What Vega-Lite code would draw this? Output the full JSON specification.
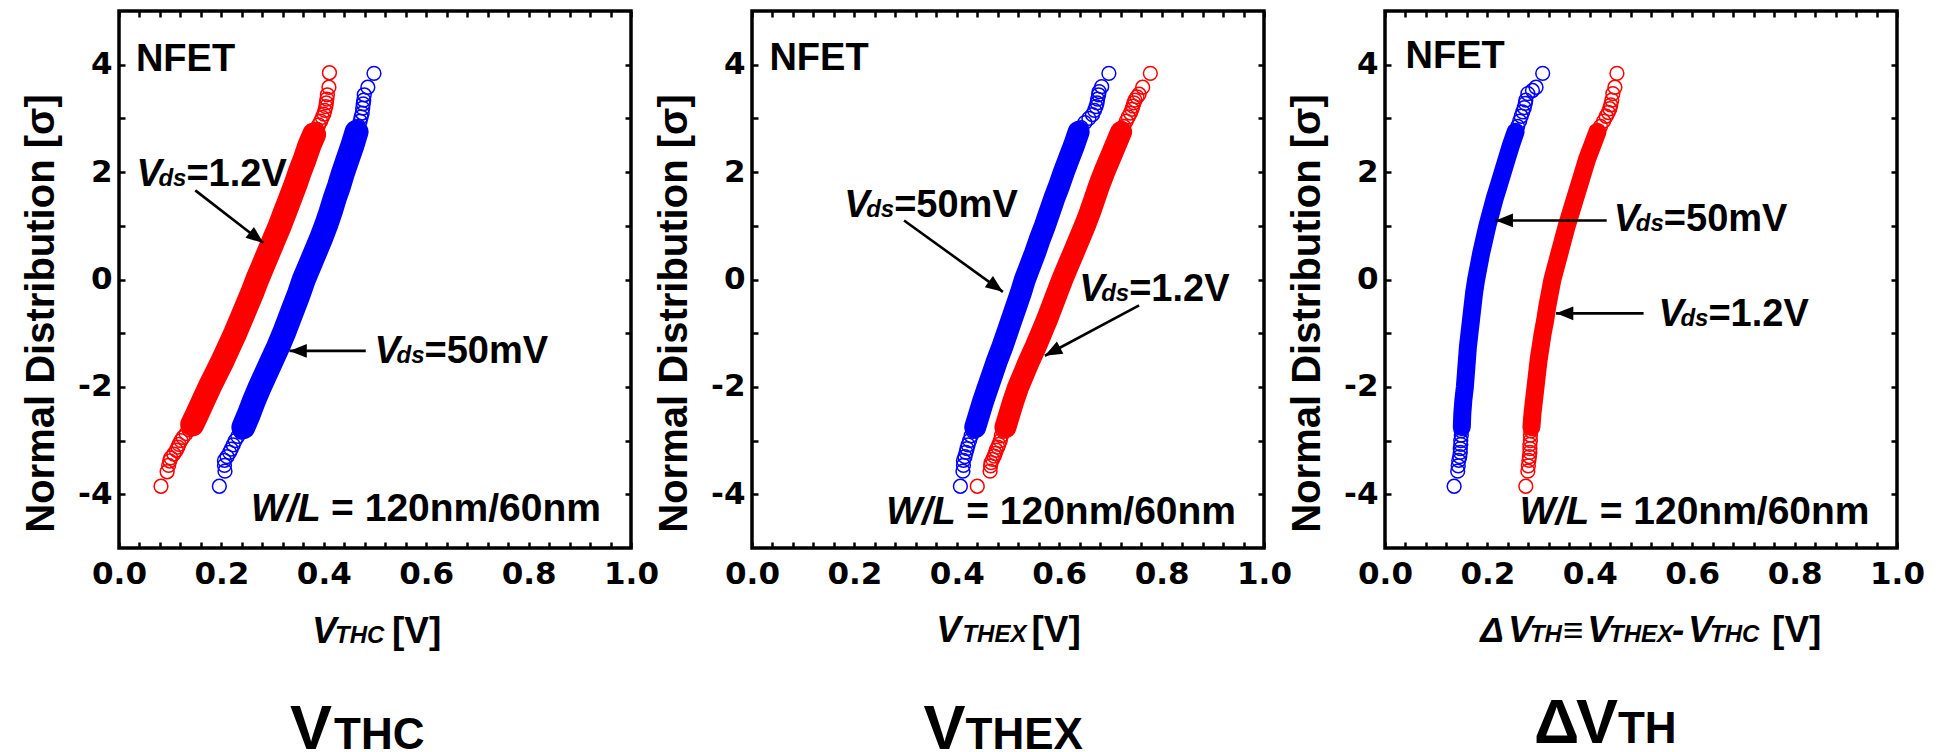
{
  "$schema": "https://vega.github.io/schema/vega-lite/v6.json",
  "background": "white",
  "padding": {"left": 19, "top": 8, "right": 0, "bottom": 0},
  "config": {
    "view": {"stroke": "black", "strokeWidth": 3.5},
    "font": "Liberation Sans"
  },
  "datasets": {
    "pts": [
      {"p":1,"s":"1.2V","x":0.082,"y":-3.85},{"p":1,"s":"1.2V","x":0.094,"y":-3.58},{"p":1,"s":"1.2V","x":0.097,"y":-3.46},{"p":1,"s":"1.2V","x":0.099,"y":-3.38},{"p":1,"s":"1.2V","x":0.101,"y":-3.32},{"p":1,"s":"1.2V","x":0.107,"y":-3.25},{"p":1,"s":"1.2V","x":0.112,"y":-3.18},{"p":1,"s":"1.2V","x":0.115,"y":-3.12},{"p":1,"s":"1.2V","x":0.117,"y":-3.07},{"p":1,"s":"1.2V","x":0.121,"y":-3.0},{"p":1,"s":"1.2V","x":0.125,"y":-2.94},{"p":1,"s":"1.2V","x":0.131,"y":-2.87},{"p":1,"s":"1.2V","x":0.137,"y":-2.8},
      {"p":1,"s":"1.2V","x":0.143,"y":-2.7},{"p":1,"s":"1.2V","x":0.153,"y":-2.5},{"p":1,"s":"1.2V","x":0.165,"y":-2.25},{"p":1,"s":"1.2V","x":0.177,"y":-2.0},{"p":1,"s":"1.2V","x":0.19,"y":-1.75},{"p":1,"s":"1.2V","x":0.203,"y":-1.5},{"p":1,"s":"1.2V","x":0.215,"y":-1.25},{"p":1,"s":"1.2V","x":0.227,"y":-1.0},{"p":1,"s":"1.2V","x":0.238,"y":-0.75},{"p":1,"s":"1.2V","x":0.249,"y":-0.5},{"p":1,"s":"1.2V","x":0.26,"y":-0.25},{"p":1,"s":"1.2V","x":0.27,"y":0.0},{"p":1,"s":"1.2V","x":0.281,"y":0.25},{"p":1,"s":"1.2V","x":0.292,"y":0.5},{"p":1,"s":"1.2V","x":0.303,"y":0.75},{"p":1,"s":"1.2V","x":0.314,"y":1.0},{"p":1,"s":"1.2V","x":0.324,"y":1.25},{"p":1,"s":"1.2V","x":0.334,"y":1.5},{"p":1,"s":"1.2V","x":0.344,"y":1.75},{"p":1,"s":"1.2V","x":0.353,"y":2.0},{"p":1,"s":"1.2V","x":0.363,"y":2.25},{"p":1,"s":"1.2V","x":0.372,"y":2.5},{"p":1,"s":"1.2V","x":0.381,"y":2.7},
      {"p":1,"s":"1.2V","x":0.386,"y":2.8},{"p":1,"s":"1.2V","x":0.39,"y":2.88},{"p":1,"s":"1.2V","x":0.394,"y":2.95},{"p":1,"s":"1.2V","x":0.397,"y":3.02},{"p":1,"s":"1.2V","x":0.4,"y":3.08},{"p":1,"s":"1.2V","x":0.402,"y":3.15},{"p":1,"s":"1.2V","x":0.404,"y":3.22},{"p":1,"s":"1.2V","x":0.405,"y":3.29},{"p":1,"s":"1.2V","x":0.406,"y":3.36},{"p":1,"s":"1.2V","x":0.407,"y":3.44},{"p":1,"s":"1.2V","x":0.41,"y":3.58},{"p":1,"s":"1.2V","x":0.411,"y":3.85},

      {"p":1,"s":"50mV","x":0.196,"y":-3.85},{"p":1,"s":"50mV","x":0.207,"y":-3.57},{"p":1,"s":"50mV","x":0.206,"y":-3.46},{"p":1,"s":"50mV","x":0.206,"y":-3.37},{"p":1,"s":"50mV","x":0.211,"y":-3.3},{"p":1,"s":"50mV","x":0.216,"y":-3.22},{"p":1,"s":"50mV","x":0.219,"y":-3.16},{"p":1,"s":"50mV","x":0.223,"y":-3.08},{"p":1,"s":"50mV","x":0.227,"y":-3.0},{"p":1,"s":"50mV","x":0.232,"y":-2.92},{"p":1,"s":"50mV","x":0.238,"y":-2.84},
      {"p":1,"s":"50mV","x":0.243,"y":-2.75},{"p":1,"s":"50mV","x":0.254,"y":-2.5},{"p":1,"s":"50mV","x":0.264,"y":-2.25},{"p":1,"s":"50mV","x":0.275,"y":-2.0},{"p":1,"s":"50mV","x":0.287,"y":-1.75},{"p":1,"s":"50mV","x":0.299,"y":-1.5},{"p":1,"s":"50mV","x":0.311,"y":-1.25},{"p":1,"s":"50mV","x":0.322,"y":-1.0},{"p":1,"s":"50mV","x":0.332,"y":-0.75},{"p":1,"s":"50mV","x":0.342,"y":-0.5},{"p":1,"s":"50mV","x":0.352,"y":-0.25},{"p":1,"s":"50mV","x":0.361,"y":0.0},{"p":1,"s":"50mV","x":0.372,"y":0.25},{"p":1,"s":"50mV","x":0.383,"y":0.5},{"p":1,"s":"50mV","x":0.394,"y":0.75},{"p":1,"s":"50mV","x":0.404,"y":1.0},{"p":1,"s":"50mV","x":0.413,"y":1.25},{"p":1,"s":"50mV","x":0.421,"y":1.5},{"p":1,"s":"50mV","x":0.43,"y":1.75},{"p":1,"s":"50mV","x":0.438,"y":2.0},{"p":1,"s":"50mV","x":0.447,"y":2.25},{"p":1,"s":"50mV","x":0.456,"y":2.5},{"p":1,"s":"50mV","x":0.464,"y":2.75},
      {"p":1,"s":"50mV","x":0.468,"y":2.85},{"p":1,"s":"50mV","x":0.471,"y":2.95},{"p":1,"s":"50mV","x":0.473,"y":3.03},{"p":1,"s":"50mV","x":0.475,"y":3.1},{"p":1,"s":"50mV","x":0.476,"y":3.19},{"p":1,"s":"50mV","x":0.477,"y":3.27},{"p":1,"s":"50mV","x":0.478,"y":3.34},{"p":1,"s":"50mV","x":0.479,"y":3.44},{"p":1,"s":"50mV","x":0.486,"y":3.58},{"p":1,"s":"50mV","x":0.498,"y":3.84},

      {"p":2,"s":"50mV","x":0.407,"y":-3.85},{"p":2,"s":"50mV","x":0.412,"y":-3.57},{"p":2,"s":"50mV","x":0.413,"y":-3.46},{"p":2,"s":"50mV","x":0.413,"y":-3.37},{"p":2,"s":"50mV","x":0.416,"y":-3.3},{"p":2,"s":"50mV","x":0.418,"y":-3.22},{"p":2,"s":"50mV","x":0.42,"y":-3.15},{"p":2,"s":"50mV","x":0.422,"y":-3.08},{"p":2,"s":"50mV","x":0.425,"y":-3.0},{"p":2,"s":"50mV","x":0.428,"y":-2.91},{"p":2,"s":"50mV","x":0.432,"y":-2.83},
      {"p":2,"s":"50mV","x":0.436,"y":-2.75},{"p":2,"s":"50mV","x":0.444,"y":-2.5},{"p":2,"s":"50mV","x":0.452,"y":-2.25},{"p":2,"s":"50mV","x":0.461,"y":-2.0},{"p":2,"s":"50mV","x":0.47,"y":-1.75},{"p":2,"s":"50mV","x":0.479,"y":-1.5},{"p":2,"s":"50mV","x":0.489,"y":-1.25},{"p":2,"s":"50mV","x":0.498,"y":-1.0},{"p":2,"s":"50mV","x":0.507,"y":-0.75},{"p":2,"s":"50mV","x":0.516,"y":-0.5},{"p":2,"s":"50mV","x":0.525,"y":-0.25},{"p":2,"s":"50mV","x":0.533,"y":0.0},{"p":2,"s":"50mV","x":0.543,"y":0.25},{"p":2,"s":"50mV","x":0.553,"y":0.5},{"p":2,"s":"50mV","x":0.562,"y":0.75},{"p":2,"s":"50mV","x":0.572,"y":1.0},{"p":2,"s":"50mV","x":0.581,"y":1.25},{"p":2,"s":"50mV","x":0.59,"y":1.5},{"p":2,"s":"50mV","x":0.6,"y":1.75},{"p":2,"s":"50mV","x":0.609,"y":2.0},{"p":2,"s":"50mV","x":0.619,"y":2.25},{"p":2,"s":"50mV","x":0.629,"y":2.5},{"p":2,"s":"50mV","x":0.638,"y":2.75},
      {"p":2,"s":"50mV","x":0.643,"y":2.83},{"p":2,"s":"50mV","x":0.65,"y":2.92},{"p":2,"s":"50mV","x":0.658,"y":3.0},{"p":2,"s":"50mV","x":0.665,"y":3.07},{"p":2,"s":"50mV","x":0.669,"y":3.15},{"p":2,"s":"50mV","x":0.672,"y":3.22},{"p":2,"s":"50mV","x":0.674,"y":3.29},{"p":2,"s":"50mV","x":0.675,"y":3.36},{"p":2,"s":"50mV","x":0.677,"y":3.44},{"p":2,"s":"50mV","x":0.678,"y":3.5},{"p":2,"s":"50mV","x":0.683,"y":3.59},{"p":2,"s":"50mV","x":0.697,"y":3.84},

      {"p":2,"s":"1.2V","x":0.44,"y":-3.85},{"p":2,"s":"1.2V","x":0.465,"y":-3.57},{"p":2,"s":"1.2V","x":0.466,"y":-3.47},{"p":2,"s":"1.2V","x":0.467,"y":-3.41},{"p":2,"s":"1.2V","x":0.47,"y":-3.35},{"p":2,"s":"1.2V","x":0.473,"y":-3.29},{"p":2,"s":"1.2V","x":0.475,"y":-3.24},{"p":2,"s":"1.2V","x":0.477,"y":-3.18},{"p":2,"s":"1.2V","x":0.48,"y":-3.12},{"p":2,"s":"1.2V","x":0.482,"y":-3.07},{"p":2,"s":"1.2V","x":0.485,"y":-3.0},{"p":2,"s":"1.2V","x":0.487,"y":-2.91},{"p":2,"s":"1.2V","x":0.491,"y":-2.83},
      {"p":2,"s":"1.2V","x":0.495,"y":-2.75},{"p":2,"s":"1.2V","x":0.503,"y":-2.5},{"p":2,"s":"1.2V","x":0.511,"y":-2.25},{"p":2,"s":"1.2V","x":0.52,"y":-2.0},{"p":2,"s":"1.2V","x":0.531,"y":-1.75},{"p":2,"s":"1.2V","x":0.542,"y":-1.5},{"p":2,"s":"1.2V","x":0.554,"y":-1.25},{"p":2,"s":"1.2V","x":0.565,"y":-1.0},{"p":2,"s":"1.2V","x":0.576,"y":-0.75},{"p":2,"s":"1.2V","x":0.586,"y":-0.5},{"p":2,"s":"1.2V","x":0.596,"y":-0.25},{"p":2,"s":"1.2V","x":0.606,"y":0.0},{"p":2,"s":"1.2V","x":0.617,"y":0.25},{"p":2,"s":"1.2V","x":0.628,"y":0.5},{"p":2,"s":"1.2V","x":0.639,"y":0.75},{"p":2,"s":"1.2V","x":0.65,"y":1.0},{"p":2,"s":"1.2V","x":0.66,"y":1.25},{"p":2,"s":"1.2V","x":0.669,"y":1.5},{"p":2,"s":"1.2V","x":0.678,"y":1.75},{"p":2,"s":"1.2V","x":0.688,"y":2.0},{"p":2,"s":"1.2V","x":0.699,"y":2.25},{"p":2,"s":"1.2V","x":0.71,"y":2.5},{"p":2,"s":"1.2V","x":0.721,"y":2.75},
      {"p":2,"s":"1.2V","x":0.726,"y":2.85},{"p":2,"s":"1.2V","x":0.731,"y":2.95},{"p":2,"s":"1.2V","x":0.735,"y":3.03},{"p":2,"s":"1.2V","x":0.739,"y":3.1},{"p":2,"s":"1.2V","x":0.742,"y":3.17},{"p":2,"s":"1.2V","x":0.744,"y":3.23},{"p":2,"s":"1.2V","x":0.746,"y":3.29},{"p":2,"s":"1.2V","x":0.748,"y":3.34},{"p":2,"s":"1.2V","x":0.752,"y":3.4},{"p":2,"s":"1.2V","x":0.756,"y":3.45},{"p":2,"s":"1.2V","x":0.763,"y":3.58},{"p":2,"s":"1.2V","x":0.778,"y":3.84},

      {"p":3,"s":"50mV","x":0.135,"y":-3.85},{"p":3,"s":"50mV","x":0.142,"y":-3.57},{"p":3,"s":"50mV","x":0.143,"y":-3.47},{"p":3,"s":"50mV","x":0.144,"y":-3.37},{"p":3,"s":"50mV","x":0.146,"y":-3.3},{"p":3,"s":"50mV","x":0.147,"y":-3.22},{"p":3,"s":"50mV","x":0.147,"y":-3.15},{"p":3,"s":"50mV","x":0.148,"y":-3.07},{"p":3,"s":"50mV","x":0.148,"y":-3.0},{"p":3,"s":"50mV","x":0.149,"y":-2.9},{"p":3,"s":"50mV","x":0.149,"y":-2.82},
      {"p":3,"s":"50mV","x":0.15,"y":-2.75},{"p":3,"s":"50mV","x":0.151,"y":-2.5},{"p":3,"s":"50mV","x":0.153,"y":-2.25},{"p":3,"s":"50mV","x":0.156,"y":-2.0},{"p":3,"s":"50mV","x":0.158,"y":-1.75},{"p":3,"s":"50mV","x":0.16,"y":-1.5},{"p":3,"s":"50mV","x":0.162,"y":-1.25},{"p":3,"s":"50mV","x":0.165,"y":-1.0},{"p":3,"s":"50mV","x":0.168,"y":-0.75},{"p":3,"s":"50mV","x":0.171,"y":-0.5},{"p":3,"s":"50mV","x":0.174,"y":-0.25},{"p":3,"s":"50mV","x":0.178,"y":0.0},{"p":3,"s":"50mV","x":0.183,"y":0.25},{"p":3,"s":"50mV","x":0.188,"y":0.5},{"p":3,"s":"50mV","x":0.194,"y":0.75},{"p":3,"s":"50mV","x":0.2,"y":1.0},{"p":3,"s":"50mV","x":0.207,"y":1.25},{"p":3,"s":"50mV","x":0.214,"y":1.5},{"p":3,"s":"50mV","x":0.222,"y":1.75},{"p":3,"s":"50mV","x":0.23,"y":2.0},{"p":3,"s":"50mV","x":0.238,"y":2.25},{"p":3,"s":"50mV","x":0.246,"y":2.5},{"p":3,"s":"50mV","x":0.255,"y":2.75},
      {"p":3,"s":"50mV","x":0.259,"y":2.85},{"p":3,"s":"50mV","x":0.263,"y":2.95},{"p":3,"s":"50mV","x":0.266,"y":3.04},{"p":3,"s":"50mV","x":0.269,"y":3.12},{"p":3,"s":"50mV","x":0.272,"y":3.2},{"p":3,"s":"50mV","x":0.274,"y":3.28},{"p":3,"s":"50mV","x":0.275,"y":3.34},{"p":3,"s":"50mV","x":0.279,"y":3.46},{"p":3,"s":"50mV","x":0.288,"y":3.52},{"p":3,"s":"50mV","x":0.295,"y":3.58},{"p":3,"s":"50mV","x":0.308,"y":3.84},

      {"p":3,"s":"1.2V","x":0.275,"y":-3.85},{"p":3,"s":"1.2V","x":0.279,"y":-3.57},{"p":3,"s":"1.2V","x":0.28,"y":-3.47},{"p":3,"s":"1.2V","x":0.281,"y":-3.37},{"p":3,"s":"1.2V","x":0.282,"y":-3.3},{"p":3,"s":"1.2V","x":0.283,"y":-3.22},{"p":3,"s":"1.2V","x":0.283,"y":-3.15},{"p":3,"s":"1.2V","x":0.283,"y":-3.07},{"p":3,"s":"1.2V","x":0.284,"y":-3.0},{"p":3,"s":"1.2V","x":0.284,"y":-2.9},{"p":3,"s":"1.2V","x":0.285,"y":-2.82},
      {"p":3,"s":"1.2V","x":0.286,"y":-2.75},{"p":3,"s":"1.2V","x":0.288,"y":-2.5},{"p":3,"s":"1.2V","x":0.291,"y":-2.25},{"p":3,"s":"1.2V","x":0.294,"y":-2.0},{"p":3,"s":"1.2V","x":0.297,"y":-1.75},{"p":3,"s":"1.2V","x":0.3,"y":-1.5},{"p":3,"s":"1.2V","x":0.304,"y":-1.25},{"p":3,"s":"1.2V","x":0.308,"y":-1.0},{"p":3,"s":"1.2V","x":0.313,"y":-0.75},{"p":3,"s":"1.2V","x":0.317,"y":-0.5},{"p":3,"s":"1.2V","x":0.322,"y":-0.25},{"p":3,"s":"1.2V","x":0.327,"y":0.0},{"p":3,"s":"1.2V","x":0.334,"y":0.25},{"p":3,"s":"1.2V","x":0.341,"y":0.5},{"p":3,"s":"1.2V","x":0.348,"y":0.75},{"p":3,"s":"1.2V","x":0.355,"y":1.0},{"p":3,"s":"1.2V","x":0.363,"y":1.25},{"p":3,"s":"1.2V","x":0.371,"y":1.5},{"p":3,"s":"1.2V","x":0.379,"y":1.75},{"p":3,"s":"1.2V","x":0.387,"y":2.0},{"p":3,"s":"1.2V","x":0.395,"y":2.25},{"p":3,"s":"1.2V","x":0.405,"y":2.5},{"p":3,"s":"1.2V","x":0.415,"y":2.75},
      {"p":3,"s":"1.2V","x":0.421,"y":2.85},{"p":3,"s":"1.2V","x":0.427,"y":2.95},{"p":3,"s":"1.2V","x":0.432,"y":3.04},{"p":3,"s":"1.2V","x":0.436,"y":3.11},{"p":3,"s":"1.2V","x":0.439,"y":3.18},{"p":3,"s":"1.2V","x":0.441,"y":3.25},{"p":3,"s":"1.2V","x":0.443,"y":3.34},{"p":3,"s":"1.2V","x":0.445,"y":3.46},{"p":3,"s":"1.2V","x":0.449,"y":3.58},{"p":3,"s":"1.2V","x":0.453,"y":3.84}
    ],
    "arrows": [
      {"p":1,"x":0.149,"y":1.66,"x2":0.282,"y2":0.68},
      {"p":1,"x":0.482,"y":-1.33,"x2":0.333,"y2":-1.33},
      {"p":2,"x":0.297,"y":1.1,"x2":0.49,"y2":-0.23},
      {"p":2,"x":0.756,"y":-0.48,"x2":0.572,"y2":-1.42},
      {"p":3,"x":0.433,"y":1.1,"x2":0.216,"y2":1.1},
      {"p":3,"x":0.505,"y":-0.63,"x2":0.334,"y2":-0.63}
    ],
    "nfet": [
      {"p":1,"x":0.033,"y":3.88},{"p":2,"x":0.034,"y":3.9},{"p":3,"x":0.04,"y":3.93}
    ],
    "vds": [
      {"p":1,"x":0.034,"y":1.74,"rest":"=1.2V"},
      {"p":1,"x":0.499,"y":-1.55,"rest":"=50mV"},
      {"p":2,"x":0.18,"y":1.17,"rest":"=50mV"},
      {"p":2,"x":0.639,"y":-0.4,"rest":"=1.2V"},
      {"p":3,"x":0.447,"y":0.91,"rest":"=50mV"},
      {"p":3,"x":0.534,"y":-0.86,"rest":"=1.2V"}
    ],
    "wl": [
      {"p":1,"x":0.258,"y":-4.49},{"p":2,"x":0.262,"y":-4.56},{"p":3,"x":0.263,"y":-4.55}
    ],
    "xtBig": [
      {"p":1,"x":0.377,"y":-6.77,"t":"V"},
      {"p":2,"x":0.36,"y":-6.75,"t":"V"},
      {"p":3,"x":0.24,"y":-6.75,"t":"V"},
      {"p":3,"x":0.395,"y":-6.75,"t":"V"},
      {"p":3,"x":0.5605,"y":-6.75,"t":"-"},
      {"p":3,"x":0.592,"y":-6.75,"t":"V"}
    ],
    "xtSmall": [
      {"p":1,"x":0.422,"y":-6.77,"t":"THC"},
      {"p":2,"x":0.411,"y":-6.75,"t":"THEX"},
      {"p":3,"x":0.283,"y":-6.75,"t":"TH"},
      {"p":3,"x":0.4375,"y":-6.75,"t":"THEX"},
      {"p":3,"x":0.635,"y":-6.75,"t":"THC"}
    ],
    "xtSym": [
      {"p":3,"x":0.186,"y":-6.75,"t":"Δ"},
      {"p":3,"x":0.347,"y":-6.75,"t":"≡"}
    ],
    "xtUnit": [
      {"p":1,"x":0.533,"y":-6.77,"t":"[V]"},
      {"p":2,"x":0.546,"y":-6.75,"t":"[V]"},
      {"p":3,"x":0.756,"y":-6.75,"t":"[V]"}
    ],
    "capBig": [
      {"p":1,"x":0.334,"y":-8.74,"t":"V"},
      {"p":2,"x":0.335,"y":-8.74,"t":"V"},
      {"p":3,"x":0.291,"y":-8.63,"t":"Δ"},
      {"p":3,"x":0.373,"y":-8.63,"t":"V"}
    ],
    "capSmall": [
      {"p":1,"x":0.42,"y":-8.74,"t":"THC"},
      {"p":2,"x":0.417,"y":-8.74,"t":"THEX"},
      {"p":3,"x":0.455,"y":-8.63,"t":"TH"}
    ]
  },
  "spacing": 121,
  "bounds": "flush",
  "hconcat": [
    {
      "width": 512, "height": 537,
      "resolve": {"axis": {"x": "independent", "y": "independent"}},
      "layer": [
        {"data": {"name": "pts"}, "transform": [{"filter": "datum.p == 1 && abs(datum.y) <= 2.76"}],
         "mark": {"type": "line", "strokeWidth": 24, "strokeCap": "round", "strokeJoin": "round"},
         "encoding": {
           "x": {"field": "x", "type": "quantitative", "scale": {"domain": [0, 1]}, "axis": null},
           "y": {"field": "y", "type": "quantitative", "scale": {"domain": [-5, 5]}, "axis": null},
           "color": {"field": "s", "type": "nominal", "scale": {"domain": ["1.2V", "50mV"], "range": ["#ff0000", "#0000ff"]}, "legend": null},
           "order": {"field": "y", "type": "quantitative"}}},
        {"data": {"name": "pts"}, "transform": [{"filter": "datum.p == 1"}],
         "mark": {"type": "point", "shape": "circle", "filled": false, "size": 190, "strokeWidth": 1.5, "opacity": 1},
         "encoding": {
           "x": {"field": "x", "type": "quantitative", "scale": {"domain": [0, 1]},
                 "axis": {"orient": "bottom", "values": [0,0.04,0.08,0.12,0.16,0.2,0.24,0.28,0.32,0.36,0.4,0.44,0.48,0.52,0.56,0.6,0.64,0.68,0.72,0.76,0.8,0.84,0.88,0.92,0.96,1],
                          "labelExpr": "round(datum.value * 100) % 20 == 0 ? format(datum.value, '.1f') : ''",
                          "title": null, "domain": false, "grid": false, "tickSize": -6, "tickWidth": 2.5, "tickColor": "black",
                          "labelPadding": 17, "labelFont": "DejaVu Sans", "labelFontWeight": "bold", "labelFontSize": 31, "labelColor": "black", "labelFlush": false, "labelOverlap": false}},
           "y": {"field": "y", "type": "quantitative", "scale": {"domain": [-5, 5]},
                 "axis": {"orient": "left", "values": [-4,-3,-2,-1,0,1,2,3,4],
                          "labelExpr": "datum.value % 2 == 0 ? '' + datum.value : ''",
                          "title": "Normal Distribution [σ]", "titleFont": "Liberation Sans", "titleFontWeight": "bold", "titleFontSize": 40, "titleColor": "black", "titlePadding": 16, "titleY": 302,
                          "domain": false, "grid": false, "tickSize": -6, "tickWidth": 2.5, "tickColor": "black",
                          "labelPadding": 13, "labelFont": "DejaVu Sans", "labelFontWeight": "bold", "labelFontSize": 31, "labelColor": "black", "labelOverlap": false}},
           "color": {"field": "s", "type": "nominal", "scale": {"domain": ["1.2V", "50mV"], "range": ["#ff0000", "#0000ff"]}, "legend": null}}},
        {"data": {"name": "arrows"}, "transform": [{"filter": "datum.p == 1"}],
         "mark": {"type": "rule", "strokeWidth": 2.6, "color": "black"},
         "encoding": {
           "x": {"field": "x", "type": "quantitative", "scale": {"domain": [0, 1]},
                 "axis": {"orient": "top", "values": [0,0.04,0.08,0.12,0.16,0.2,0.24,0.28,0.32,0.36,0.4,0.44,0.48,0.52,0.56,0.6,0.64,0.68,0.72,0.76,0.8,0.84,0.88,0.92,0.96,1],
                          "labels": false, "title": null, "domain": false, "grid": false, "tickSize": -6, "tickWidth": 2.5, "tickColor": "black"}},
           "y": {"field": "y", "type": "quantitative", "scale": {"domain": [-5, 5]},
                 "axis": {"orient": "right", "values": [-4,-3,-2,-1,0,1,2,3,4],
                          "labels": false, "title": null, "domain": false, "grid": false, "tickSize": -6, "tickWidth": 2.5, "tickColor": "black"}},
           "x2": {"field": "x2"}, "y2": {"field": "y2"}}},
        {"data": {"name": "arrows"}, "transform": [{"filter": "datum.p == 1"}, {"calculate": "atan2((datum.y - datum.y2) * 53.7, (datum.x2 - datum.x) * 512) * 180 / PI", "as": "a"}],
         "mark": {"type": "point", "shape": "M0,0L-2,-0.8L-2,0.8Z", "filled": true, "color": "black", "size": 300, "opacity": 1, "strokeWidth": 0},
         "encoding": {
           "x": {"field": "x2", "type": "quantitative", "scale": {"domain": [0, 1]}, "axis": null},
           "y": {"field": "y2", "type": "quantitative", "scale": {"domain": [-5, 5]}, "axis": null},
           "angle": {"field": "a", "type": "quantitative", "scale": null}}},
        {"data": {"name": "nfet"}, "transform": [{"filter": "datum.p == 1"}],
         "mark": {"type": "text", "text": "NFET", "align": "left", "baseline": "alphabetic", "font": "Liberation Sans", "fontWeight": "bold", "fontSize": 38, "color": "black"},
         "encoding": {"x": {"field": "x", "type": "quantitative", "scale": {"domain": [0, 1]}, "axis": null}, "y": {"field": "y", "type": "quantitative", "scale": {"domain": [-5, 5]}, "axis": null}}},
        {"data": {"name": "vds"}, "transform": [{"filter": "datum.p == 1"}],
         "mark": {"type": "text", "text": "V", "align": "left", "baseline": "alphabetic", "font": "Liberation Sans", "fontWeight": "bold", "fontStyle": "italic", "fontSize": 38, "color": "black"},
         "encoding": {"x": {"field": "x", "type": "quantitative", "scale": {"domain": [0, 1]}, "axis": null}, "y": {"field": "y", "type": "quantitative", "scale": {"domain": [-5, 5]}, "axis": null}}},
        {"data": {"name": "vds"}, "transform": [{"filter": "datum.p == 1"}],
         "mark": {"type": "text", "text": "ds", "dx": 22, "align": "left", "baseline": "alphabetic", "font": "Liberation Sans", "fontWeight": "bold", "fontStyle": "italic", "fontSize": 24, "color": "black"},
         "encoding": {"x": {"field": "x", "type": "quantitative", "scale": {"domain": [0, 1]}, "axis": null}, "y": {"field": "y", "type": "quantitative", "scale": {"domain": [-5, 5]}, "axis": null}}},
        {"data": {"name": "vds"}, "transform": [{"filter": "datum.p == 1"}],
         "mark": {"type": "text", "dx": 50, "align": "left", "baseline": "alphabetic", "font": "Liberation Sans", "fontWeight": "bold", "fontSize": 38, "color": "black"},
         "encoding": {"x": {"field": "x", "type": "quantitative", "scale": {"domain": [0, 1]}, "axis": null}, "y": {"field": "y", "type": "quantitative", "scale": {"domain": [-5, 5]}, "axis": null}, "text": {"field": "rest", "type": "nominal"}}},
        {"data": {"name": "wl"}, "transform": [{"filter": "datum.p == 1"}],
         "mark": {"type": "text", "text": "W/L", "align": "left", "baseline": "alphabetic", "font": "Liberation Sans", "fontWeight": "bold", "fontStyle": "italic", "fontSize": 38, "color": "black"},
         "encoding": {"x": {"field": "x", "type": "quantitative", "scale": {"domain": [0, 1]}, "axis": null}, "y": {"field": "y", "type": "quantitative", "scale": {"domain": [-5, 5]}, "axis": null}}},
        {"data": {"name": "wl"}, "transform": [{"filter": "datum.p == 1"}],
         "mark": {"type": "text", "text": "= 120nm/60nm", "dx": 80, "align": "left", "baseline": "alphabetic", "font": "Liberation Sans", "fontWeight": "bold", "fontSize": 39, "color": "black"},
         "encoding": {"x": {"field": "x", "type": "quantitative", "scale": {"domain": [0, 1]}, "axis": null}, "y": {"field": "y", "type": "quantitative", "scale": {"domain": [-5, 5]}, "axis": null}}},
        {"data": {"name": "xtBig"}, "transform": [{"filter": "datum.p == 1"}],
         "mark": {"type": "text", "align": "left", "baseline": "alphabetic", "font": "Liberation Sans", "fontWeight": "bold", "fontStyle": "italic", "fontSize": 37, "color": "black"},
         "encoding": {"x": {"field": "x", "type": "quantitative", "scale": {"domain": [0, 1]}, "axis": null}, "y": {"field": "y", "type": "quantitative", "scale": {"domain": [-5, 5]}, "axis": null}, "text": {"field": "t", "type": "nominal"}}},
        {"data": {"name": "xtSmall"}, "transform": [{"filter": "datum.p == 1"}],
         "mark": {"type": "text", "align": "left", "baseline": "alphabetic", "font": "Liberation Sans", "fontWeight": "bold", "fontStyle": "italic", "fontSize": 24, "color": "black"},
         "encoding": {"x": {"field": "x", "type": "quantitative", "scale": {"domain": [0, 1]}, "axis": null}, "y": {"field": "y", "type": "quantitative", "scale": {"domain": [-5, 5]}, "axis": null}, "text": {"field": "t", "type": "nominal"}}},
        {"data": {"name": "xtUnit"}, "transform": [{"filter": "datum.p == 1"}],
         "mark": {"type": "text", "align": "left", "baseline": "alphabetic", "font": "Liberation Sans", "fontWeight": "bold", "fontSize": 37, "color": "black"},
         "encoding": {"x": {"field": "x", "type": "quantitative", "scale": {"domain": [0, 1]}, "axis": null}, "y": {"field": "y", "type": "quantitative", "scale": {"domain": [-5, 5]}, "axis": null}, "text": {"field": "t", "type": "nominal"}}},
        {"data": {"name": "capBig"}, "transform": [{"filter": "datum.p == 1"}],
         "mark": {"type": "text", "align": "left", "baseline": "alphabetic", "font": "Liberation Sans", "fontWeight": "bold", "fontSize": 63, "color": "black"},
         "encoding": {"x": {"field": "x", "type": "quantitative", "scale": {"domain": [0, 1]}, "axis": null}, "y": {"field": "y", "type": "quantitative", "scale": {"domain": [-5, 5]}, "axis": null}, "text": {"field": "t", "type": "nominal"}}},
        {"data": {"name": "capSmall"}, "transform": [{"filter": "datum.p == 1"}],
         "mark": {"type": "text", "align": "left", "baseline": "alphabetic", "font": "Liberation Sans", "fontWeight": "bold", "fontSize": 44, "color": "black"},
         "encoding": {"x": {"field": "x", "type": "quantitative", "scale": {"domain": [0, 1]}, "axis": null}, "y": {"field": "y", "type": "quantitative", "scale": {"domain": [-5, 5]}, "axis": null}, "text": {"field": "t", "type": "nominal"}}}
      ]
    },
    {
      "width": 512, "height": 537,
      "resolve": {"axis": {"x": "independent", "y": "independent"}},
      "layer": [
        {"data": {"name": "pts"}, "transform": [{"filter": "datum.p == 2 && abs(datum.y) <= 2.76"}],
         "mark": {"type": "line", "strokeWidth": 22, "strokeCap": "round", "strokeJoin": "round"},
         "encoding": {
           "x": {"field": "x", "type": "quantitative", "scale": {"domain": [0, 1]}, "axis": null},
           "y": {"field": "y", "type": "quantitative", "scale": {"domain": [-5, 5]}, "axis": null},
           "color": {"field": "s", "type": "nominal", "scale": {"domain": ["1.2V", "50mV"], "range": ["#ff0000", "#0000ff"]}, "legend": null},
           "order": {"field": "y", "type": "quantitative"}}},
        {"data": {"name": "pts"}, "transform": [{"filter": "datum.p == 2"}],
         "mark": {"type": "point", "shape": "circle", "filled": false, "size": 190, "strokeWidth": 1.5, "opacity": 1},
         "encoding": {
           "x": {"field": "x", "type": "quantitative", "scale": {"domain": [0, 1]},
                 "axis": {"orient": "bottom", "values": [0,0.04,0.08,0.12,0.16,0.2,0.24,0.28,0.32,0.36,0.4,0.44,0.48,0.52,0.56,0.6,0.64,0.68,0.72,0.76,0.8,0.84,0.88,0.92,0.96,1],
                          "labelExpr": "round(datum.value * 100) % 20 == 0 ? format(datum.value, '.1f') : ''",
                          "title": null, "domain": false, "grid": false, "tickSize": -6, "tickWidth": 2.5, "tickColor": "black",
                          "labelPadding": 17, "labelFont": "DejaVu Sans", "labelFontWeight": "bold", "labelFontSize": 31, "labelColor": "black", "labelFlush": false, "labelOverlap": false}},
           "y": {"field": "y", "type": "quantitative", "scale": {"domain": [-5, 5]},
                 "axis": {"orient": "left", "values": [-4,-3,-2,-1,0,1,2,3,4],
                          "labelExpr": "datum.value % 2 == 0 ? '' + datum.value : ''",
                          "title": "Normal Distribution [σ]", "titleFont": "Liberation Sans", "titleFontWeight": "bold", "titleFontSize": 40, "titleColor": "black", "titlePadding": 16, "titleY": 302,
                          "domain": false, "grid": false, "tickSize": -6, "tickWidth": 2.5, "tickColor": "black",
                          "labelPadding": 13, "labelFont": "DejaVu Sans", "labelFontWeight": "bold", "labelFontSize": 31, "labelColor": "black", "labelOverlap": false}},
           "color": {"field": "s", "type": "nominal", "scale": {"domain": ["1.2V", "50mV"], "range": ["#ff0000", "#0000ff"]}, "legend": null}}},
        {"data": {"name": "arrows"}, "transform": [{"filter": "datum.p == 2"}],
         "mark": {"type": "rule", "strokeWidth": 2.6, "color": "black"},
         "encoding": {
           "x": {"field": "x", "type": "quantitative", "scale": {"domain": [0, 1]},
                 "axis": {"orient": "top", "values": [0,0.04,0.08,0.12,0.16,0.2,0.24,0.28,0.32,0.36,0.4,0.44,0.48,0.52,0.56,0.6,0.64,0.68,0.72,0.76,0.8,0.84,0.88,0.92,0.96,1],
                          "labels": false, "title": null, "domain": false, "grid": false, "tickSize": -6, "tickWidth": 2.5, "tickColor": "black"}},
           "y": {"field": "y", "type": "quantitative", "scale": {"domain": [-5, 5]},
                 "axis": {"orient": "right", "values": [-4,-3,-2,-1,0,1,2,3,4],
                          "labels": false, "title": null, "domain": false, "grid": false, "tickSize": -6, "tickWidth": 2.5, "tickColor": "black"}},
           "x2": {"field": "x2"}, "y2": {"field": "y2"}}},
        {"data": {"name": "arrows"}, "transform": [{"filter": "datum.p == 2"}, {"calculate": "atan2((datum.y - datum.y2) * 53.7, (datum.x2 - datum.x) * 512) * 180 / PI", "as": "a"}],
         "mark": {"type": "point", "shape": "M0,0L-2,-0.8L-2,0.8Z", "filled": true, "color": "black", "size": 300, "opacity": 1, "strokeWidth": 0},
         "encoding": {
           "x": {"field": "x2", "type": "quantitative", "scale": {"domain": [0, 1]}, "axis": null},
           "y": {"field": "y2", "type": "quantitative", "scale": {"domain": [-5, 5]}, "axis": null},
           "angle": {"field": "a", "type": "quantitative", "scale": null}}},
        {"data": {"name": "nfet"}, "transform": [{"filter": "datum.p == 2"}],
         "mark": {"type": "text", "text": "NFET", "align": "left", "baseline": "alphabetic", "font": "Liberation Sans", "fontWeight": "bold", "fontSize": 38, "color": "black"},
         "encoding": {"x": {"field": "x", "type": "quantitative", "scale": {"domain": [0, 1]}, "axis": null}, "y": {"field": "y", "type": "quantitative", "scale": {"domain": [-5, 5]}, "axis": null}}},
        {"data": {"name": "vds"}, "transform": [{"filter": "datum.p == 2"}],
         "mark": {"type": "text", "text": "V", "align": "left", "baseline": "alphabetic", "font": "Liberation Sans", "fontWeight": "bold", "fontStyle": "italic", "fontSize": 38, "color": "black"},
         "encoding": {"x": {"field": "x", "type": "quantitative", "scale": {"domain": [0, 1]}, "axis": null}, "y": {"field": "y", "type": "quantitative", "scale": {"domain": [-5, 5]}, "axis": null}}},
        {"data": {"name": "vds"}, "transform": [{"filter": "datum.p == 2"}],
         "mark": {"type": "text", "text": "ds", "dx": 22, "align": "left", "baseline": "alphabetic", "font": "Liberation Sans", "fontWeight": "bold", "fontStyle": "italic", "fontSize": 24, "color": "black"},
         "encoding": {"x": {"field": "x", "type": "quantitative", "scale": {"domain": [0, 1]}, "axis": null}, "y": {"field": "y", "type": "quantitative", "scale": {"domain": [-5, 5]}, "axis": null}}},
        {"data": {"name": "vds"}, "transform": [{"filter": "datum.p == 2"}],
         "mark": {"type": "text", "dx": 50, "align": "left", "baseline": "alphabetic", "font": "Liberation Sans", "fontWeight": "bold", "fontSize": 38, "color": "black"},
         "encoding": {"x": {"field": "x", "type": "quantitative", "scale": {"domain": [0, 1]}, "axis": null}, "y": {"field": "y", "type": "quantitative", "scale": {"domain": [-5, 5]}, "axis": null}, "text": {"field": "rest", "type": "nominal"}}},
        {"data": {"name": "wl"}, "transform": [{"filter": "datum.p == 2"}],
         "mark": {"type": "text", "text": "W/L", "align": "left", "baseline": "alphabetic", "font": "Liberation Sans", "fontWeight": "bold", "fontStyle": "italic", "fontSize": 38, "color": "black"},
         "encoding": {"x": {"field": "x", "type": "quantitative", "scale": {"domain": [0, 1]}, "axis": null}, "y": {"field": "y", "type": "quantitative", "scale": {"domain": [-5, 5]}, "axis": null}}},
        {"data": {"name": "wl"}, "transform": [{"filter": "datum.p == 2"}],
         "mark": {"type": "text", "text": "= 120nm/60nm", "dx": 80, "align": "left", "baseline": "alphabetic", "font": "Liberation Sans", "fontWeight": "bold", "fontSize": 39, "color": "black"},
         "encoding": {"x": {"field": "x", "type": "quantitative", "scale": {"domain": [0, 1]}, "axis": null}, "y": {"field": "y", "type": "quantitative", "scale": {"domain": [-5, 5]}, "axis": null}}},
        {"data": {"name": "xtBig"}, "transform": [{"filter": "datum.p == 2"}],
         "mark": {"type": "text", "align": "left", "baseline": "alphabetic", "font": "Liberation Sans", "fontWeight": "bold", "fontStyle": "italic", "fontSize": 37, "color": "black"},
         "encoding": {"x": {"field": "x", "type": "quantitative", "scale": {"domain": [0, 1]}, "axis": null}, "y": {"field": "y", "type": "quantitative", "scale": {"domain": [-5, 5]}, "axis": null}, "text": {"field": "t", "type": "nominal"}}},
        {"data": {"name": "xtSmall"}, "transform": [{"filter": "datum.p == 2"}],
         "mark": {"type": "text", "align": "left", "baseline": "alphabetic", "font": "Liberation Sans", "fontWeight": "bold", "fontStyle": "italic", "fontSize": 24, "color": "black"},
         "encoding": {"x": {"field": "x", "type": "quantitative", "scale": {"domain": [0, 1]}, "axis": null}, "y": {"field": "y", "type": "quantitative", "scale": {"domain": [-5, 5]}, "axis": null}, "text": {"field": "t", "type": "nominal"}}},
        {"data": {"name": "xtUnit"}, "transform": [{"filter": "datum.p == 2"}],
         "mark": {"type": "text", "align": "left", "baseline": "alphabetic", "font": "Liberation Sans", "fontWeight": "bold", "fontSize": 37, "color": "black"},
         "encoding": {"x": {"field": "x", "type": "quantitative", "scale": {"domain": [0, 1]}, "axis": null}, "y": {"field": "y", "type": "quantitative", "scale": {"domain": [-5, 5]}, "axis": null}, "text": {"field": "t", "type": "nominal"}}},
        {"data": {"name": "capBig"}, "transform": [{"filter": "datum.p == 2"}],
         "mark": {"type": "text", "align": "left", "baseline": "alphabetic", "font": "Liberation Sans", "fontWeight": "bold", "fontSize": 63, "color": "black"},
         "encoding": {"x": {"field": "x", "type": "quantitative", "scale": {"domain": [0, 1]}, "axis": null}, "y": {"field": "y", "type": "quantitative", "scale": {"domain": [-5, 5]}, "axis": null}, "text": {"field": "t", "type": "nominal"}}},
        {"data": {"name": "capSmall"}, "transform": [{"filter": "datum.p == 2"}],
         "mark": {"type": "text", "align": "left", "baseline": "alphabetic", "font": "Liberation Sans", "fontWeight": "bold", "fontSize": 44, "color": "black"},
         "encoding": {"x": {"field": "x", "type": "quantitative", "scale": {"domain": [0, 1]}, "axis": null}, "y": {"field": "y", "type": "quantitative", "scale": {"domain": [-5, 5]}, "axis": null}, "text": {"field": "t", "type": "nominal"}}}
      ]
    },
    {
      "width": 512, "height": 537,
      "resolve": {"axis": {"x": "independent", "y": "independent"}},
      "layer": [
        {"data": {"name": "pts"}, "transform": [{"filter": "datum.p == 3 && abs(datum.y) <= 2.76"}],
         "mark": {"type": "line", "strokeWidth": 18, "strokeCap": "round", "strokeJoin": "round"},
         "encoding": {
           "x": {"field": "x", "type": "quantitative", "scale": {"domain": [0, 1]}, "axis": null},
           "y": {"field": "y", "type": "quantitative", "scale": {"domain": [-5, 5]}, "axis": null},
           "color": {"field": "s", "type": "nominal", "scale": {"domain": ["1.2V", "50mV"], "range": ["#ff0000", "#0000ff"]}, "legend": null},
           "order": {"field": "y", "type": "quantitative"}}},
        {"data": {"name": "pts"}, "transform": [{"filter": "datum.p == 3"}],
         "mark": {"type": "point", "shape": "circle", "filled": false, "size": 190, "strokeWidth": 1.5, "opacity": 1},
         "encoding": {
           "x": {"field": "x", "type": "quantitative", "scale": {"domain": [0, 1]},
                 "axis": {"orient": "bottom", "values": [0,0.04,0.08,0.12,0.16,0.2,0.24,0.28,0.32,0.36,0.4,0.44,0.48,0.52,0.56,0.6,0.64,0.68,0.72,0.76,0.8,0.84,0.88,0.92,0.96,1],
                          "labelExpr": "round(datum.value * 100) % 20 == 0 ? format(datum.value, '.1f') : ''",
                          "title": null, "domain": false, "grid": false, "tickSize": -6, "tickWidth": 2.5, "tickColor": "black",
                          "labelPadding": 17, "labelFont": "DejaVu Sans", "labelFontWeight": "bold", "labelFontSize": 31, "labelColor": "black", "labelFlush": false, "labelOverlap": false}},
           "y": {"field": "y", "type": "quantitative", "scale": {"domain": [-5, 5]},
                 "axis": {"orient": "left", "values": [-4,-3,-2,-1,0,1,2,3,4],
                          "labelExpr": "datum.value % 2 == 0 ? '' + datum.value : ''",
                          "title": "Normal Distribution [σ]", "titleFont": "Liberation Sans", "titleFontWeight": "bold", "titleFontSize": 40, "titleColor": "black", "titlePadding": 16, "titleY": 302,
                          "domain": false, "grid": false, "tickSize": -6, "tickWidth": 2.5, "tickColor": "black",
                          "labelPadding": 13, "labelFont": "DejaVu Sans", "labelFontWeight": "bold", "labelFontSize": 31, "labelColor": "black", "labelOverlap": false}},
           "color": {"field": "s", "type": "nominal", "scale": {"domain": ["1.2V", "50mV"], "range": ["#ff0000", "#0000ff"]}, "legend": null}}},
        {"data": {"name": "arrows"}, "transform": [{"filter": "datum.p == 3"}],
         "mark": {"type": "rule", "strokeWidth": 2.6, "color": "black"},
         "encoding": {
           "x": {"field": "x", "type": "quantitative", "scale": {"domain": [0, 1]},
                 "axis": {"orient": "top", "values": [0,0.04,0.08,0.12,0.16,0.2,0.24,0.28,0.32,0.36,0.4,0.44,0.48,0.52,0.56,0.6,0.64,0.68,0.72,0.76,0.8,0.84,0.88,0.92,0.96,1],
                          "labels": false, "title": null, "domain": false, "grid": false, "tickSize": -6, "tickWidth": 2.5, "tickColor": "black"}},
           "y": {"field": "y", "type": "quantitative", "scale": {"domain": [-5, 5]},
                 "axis": {"orient": "right", "values": [-4,-3,-2,-1,0,1,2,3,4],
                          "labels": false, "title": null, "domain": false, "grid": false, "tickSize": -6, "tickWidth": 2.5, "tickColor": "black"}},
           "x2": {"field": "x2"}, "y2": {"field": "y2"}}},
        {"data": {"name": "arrows"}, "transform": [{"filter": "datum.p == 3"}, {"calculate": "atan2((datum.y - datum.y2) * 53.7, (datum.x2 - datum.x) * 512) * 180 / PI", "as": "a"}],
         "mark": {"type": "point", "shape": "M0,0L-2,-0.8L-2,0.8Z", "filled": true, "color": "black", "size": 300, "opacity": 1, "strokeWidth": 0},
         "encoding": {
           "x": {"field": "x2", "type": "quantitative", "scale": {"domain": [0, 1]}, "axis": null},
           "y": {"field": "y2", "type": "quantitative", "scale": {"domain": [-5, 5]}, "axis": null},
           "angle": {"field": "a", "type": "quantitative", "scale": null}}},
        {"data": {"name": "nfet"}, "transform": [{"filter": "datum.p == 3"}],
         "mark": {"type": "text", "text": "NFET", "align": "left", "baseline": "alphabetic", "font": "Liberation Sans", "fontWeight": "bold", "fontSize": 38, "color": "black"},
         "encoding": {"x": {"field": "x", "type": "quantitative", "scale": {"domain": [0, 1]}, "axis": null}, "y": {"field": "y", "type": "quantitative", "scale": {"domain": [-5, 5]}, "axis": null}}},
        {"data": {"name": "vds"}, "transform": [{"filter": "datum.p == 3"}],
         "mark": {"type": "text", "text": "V", "align": "left", "baseline": "alphabetic", "font": "Liberation Sans", "fontWeight": "bold", "fontStyle": "italic", "fontSize": 38, "color": "black"},
         "encoding": {"x": {"field": "x", "type": "quantitative", "scale": {"domain": [0, 1]}, "axis": null}, "y": {"field": "y", "type": "quantitative", "scale": {"domain": [-5, 5]}, "axis": null}}},
        {"data": {"name": "vds"}, "transform": [{"filter": "datum.p == 3"}],
         "mark": {"type": "text", "text": "ds", "dx": 22, "align": "left", "baseline": "alphabetic", "font": "Liberation Sans", "fontWeight": "bold", "fontStyle": "italic", "fontSize": 24, "color": "black"},
         "encoding": {"x": {"field": "x", "type": "quantitative", "scale": {"domain": [0, 1]}, "axis": null}, "y": {"field": "y", "type": "quantitative", "scale": {"domain": [-5, 5]}, "axis": null}}},
        {"data": {"name": "vds"}, "transform": [{"filter": "datum.p == 3"}],
         "mark": {"type": "text", "dx": 50, "align": "left", "baseline": "alphabetic", "font": "Liberation Sans", "fontWeight": "bold", "fontSize": 38, "color": "black"},
         "encoding": {"x": {"field": "x", "type": "quantitative", "scale": {"domain": [0, 1]}, "axis": null}, "y": {"field": "y", "type": "quantitative", "scale": {"domain": [-5, 5]}, "axis": null}, "text": {"field": "rest", "type": "nominal"}}},
        {"data": {"name": "wl"}, "transform": [{"filter": "datum.p == 3"}],
         "mark": {"type": "text", "text": "W/L", "align": "left", "baseline": "alphabetic", "font": "Liberation Sans", "fontWeight": "bold", "fontStyle": "italic", "fontSize": 38, "color": "black"},
         "encoding": {"x": {"field": "x", "type": "quantitative", "scale": {"domain": [0, 1]}, "axis": null}, "y": {"field": "y", "type": "quantitative", "scale": {"domain": [-5, 5]}, "axis": null}}},
        {"data": {"name": "wl"}, "transform": [{"filter": "datum.p == 3"}],
         "mark": {"type": "text", "text": "= 120nm/60nm", "dx": 80, "align": "left", "baseline": "alphabetic", "font": "Liberation Sans", "fontWeight": "bold", "fontSize": 39, "color": "black"},
         "encoding": {"x": {"field": "x", "type": "quantitative", "scale": {"domain": [0, 1]}, "axis": null}, "y": {"field": "y", "type": "quantitative", "scale": {"domain": [-5, 5]}, "axis": null}}},
        {"data": {"name": "xtBig"}, "transform": [{"filter": "datum.p == 3"}],
         "mark": {"type": "text", "align": "left", "baseline": "alphabetic", "font": "Liberation Sans", "fontWeight": "bold", "fontStyle": "italic", "fontSize": 37, "color": "black"},
         "encoding": {"x": {"field": "x", "type": "quantitative", "scale": {"domain": [0, 1]}, "axis": null}, "y": {"field": "y", "type": "quantitative", "scale": {"domain": [-5, 5]}, "axis": null}, "text": {"field": "t", "type": "nominal"}}},
        {"data": {"name": "xtSmall"}, "transform": [{"filter": "datum.p == 3"}],
         "mark": {"type": "text", "align": "left", "baseline": "alphabetic", "font": "Liberation Sans", "fontWeight": "bold", "fontStyle": "italic", "fontSize": 24, "color": "black"},
         "encoding": {"x": {"field": "x", "type": "quantitative", "scale": {"domain": [0, 1]}, "axis": null}, "y": {"field": "y", "type": "quantitative", "scale": {"domain": [-5, 5]}, "axis": null}, "text": {"field": "t", "type": "nominal"}}},
        {"data": {"name": "xtSym"}, "transform": [{"filter": "datum.p == 3"}],
         "mark": {"type": "text", "align": "left", "baseline": "alphabetic", "font": "Liberation Sans", "fontWeight": "bold", "fontStyle": "italic", "fontSize": 35, "color": "black"},
         "encoding": {"x": {"field": "x", "type": "quantitative", "scale": {"domain": [0, 1]}, "axis": null}, "y": {"field": "y", "type": "quantitative", "scale": {"domain": [-5, 5]}, "axis": null}, "text": {"field": "t", "type": "nominal"}}},
        {"data": {"name": "xtUnit"}, "transform": [{"filter": "datum.p == 3"}],
         "mark": {"type": "text", "align": "left", "baseline": "alphabetic", "font": "Liberation Sans", "fontWeight": "bold", "fontSize": 37, "color": "black"},
         "encoding": {"x": {"field": "x", "type": "quantitative", "scale": {"domain": [0, 1]}, "axis": null}, "y": {"field": "y", "type": "quantitative", "scale": {"domain": [-5, 5]}, "axis": null}, "text": {"field": "t", "type": "nominal"}}},
        {"data": {"name": "capBig"}, "transform": [{"filter": "datum.p == 3"}],
         "mark": {"type": "text", "align": "left", "baseline": "alphabetic", "font": "Liberation Sans", "fontWeight": "bold", "fontSize": 63, "color": "black"},
         "encoding": {"x": {"field": "x", "type": "quantitative", "scale": {"domain": [0, 1]}, "axis": null}, "y": {"field": "y", "type": "quantitative", "scale": {"domain": [-5, 5]}, "axis": null}, "text": {"field": "t", "type": "nominal"}}},
        {"data": {"name": "capSmall"}, "transform": [{"filter": "datum.p == 3"}],
         "mark": {"type": "text", "align": "left", "baseline": "alphabetic", "font": "Liberation Sans", "fontWeight": "bold", "fontSize": 44, "color": "black"},
         "encoding": {"x": {"field": "x", "type": "quantitative", "scale": {"domain": [0, 1]}, "axis": null}, "y": {"field": "y", "type": "quantitative", "scale": {"domain": [-5, 5]}, "axis": null}, "text": {"field": "t", "type": "nominal"}}}
      ]
    }
  ]
}
